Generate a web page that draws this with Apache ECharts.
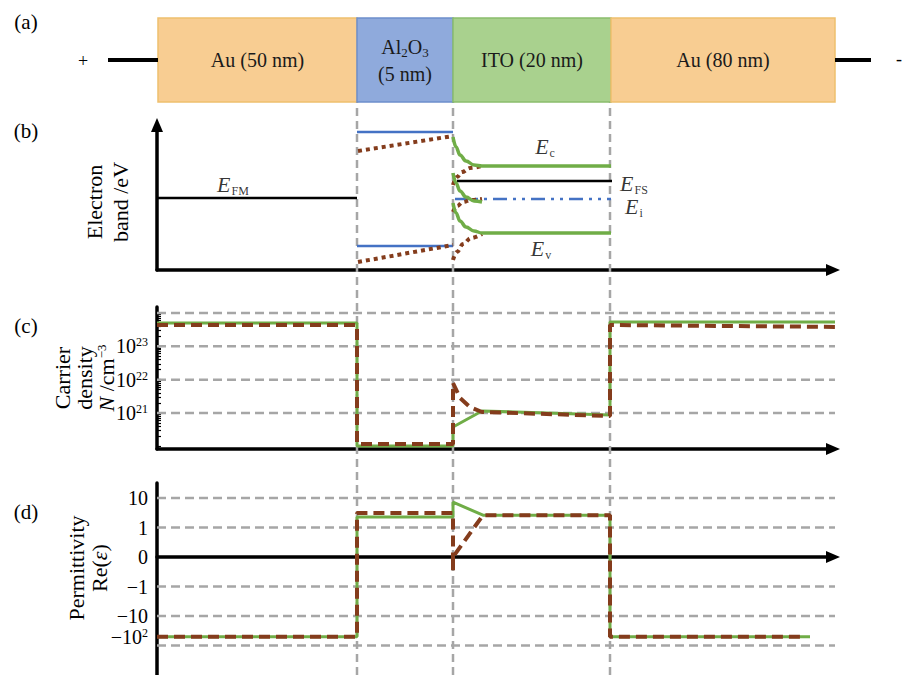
<!DOCTYPE html>
<html><head><meta charset="utf-8">
<script src="https://cdn.jsdelivr.net/npm/echarts@6/dist/echarts.min.js"></script>
<style>html,body{margin:0;padding:0;background:#fff}#c{width:902px;height:675px}</style>
</head><body><div id="c"></div>
<script>
// ---------------- data (schematic position units along the stack) ----------------
const layerLabels = ['Au (50 nm)', 'Al{s|2}O{s|3}\n(5 nm)', 'ITO (20 nm)', 'Au (80 nm)'];
const layerStart = [1, 200, 296, 454];
const layerEnd = [200, 296, 454, 678];
const interfaces = [200, 296, 453];
const wireLeft = [[-49, 0.5], [1, 0.5]];
const wireRight = [[678, 0.5], [714, 0.5]];

// (b) electron band, energy in a.u.
const bandEFM = [[0, 72], [200, 72]];
const bandAlCB = [[200, 138], [296, 138]];
const bandAlVB = [[200, 24], [296, 24]];
const bandAlCBdot = [[201, 119], [296, 134]];
const bandAlVBdot = [[201, 8], [296, 25]];
const bandEc = [[296, 133], [299, 123], [303, 115], [309, 109], [317, 105], [325, 104], [454, 104]];
const bandMid = [[296, 97], [299, 87], [303, 79], [309, 73], [317, 69], [325, 68]];
const bandEv = [[296, 67], [299, 57], [303, 49], [309, 43], [317, 39], [325, 37], [454, 37]];
const bandEcDot = [[296, 85], [300, 93], [305, 98], [313, 102], [325, 104]];
const bandMidDot = [[296, 58], [300, 64], [306, 68], [314, 70], [325, 71]];
const bandEvDot = [[296, 10], [300, 18], [306, 26], [314, 32], [325, 36]];
const bandEFS = [[300, 89], [455, 89]];
const bandEi = [[298, 71], [454, 71]];
const bandLabelPos = [[76, 86], [388, 124], [477, 87], [477, 64], [384, 22]];
const bandLabelSub = ['FM', 'c', 'FS', 'i', 'v'];

// (c) carrier density, log10(N / cm^-3)
const cTickExp = [21, 22, 23];
const cGridExp = [21, 22, 23, 24];
const densGreen = [[0, 23.70], [200, 23.70], [200, 20.01], [296, 20.01], [296, 20.58], [325, 21.06], [453, 20.94], [453, 23.73], [688, 23.73]];
const densBrown = [[0, 23.64], [200, 23.64], [200, 20.07], [296, 20.07], [296, 21.9], [303, 21.45], [313, 21.18], [325, 21.03], [453, 20.91], [453, 23.64], [688, 23.58]];

// (d) permittivity Re(eps), schematic log-like axis position
const dTickPos = [2, 1, 0, -1, -2, -2.7];
const dTickText = ['10', '1', '0', '−1', '−10', '−10{p|2}'];
const dGridPos = [2, 1, -1, -2, -3];
const permGreen = [[0, -2.7], [200, -2.7], [200, 1.36], [296, 1.36], [296, 1.86], [326, 1.42], [453, 1.42], [453, -2.7], [653, -2.7]];
const permBrown = [[0, -2.7], [200, -2.7], [200, 1.49], [296, 1.49], [296, -0.45], [296, 0], [326, 1.42], [453, 1.42], [453, -2.7], [645, -2.7]];

// ---------------- styling ----------------
const SERIF = 'Liberation Serif';
const GREEN = '#70AD47', BROWN = '#843C1C', BLUE = '#4472C4', GREY = '#A6A6A6';
const layerFill = ['#F8CD92', '#8FAADC', '#A9D18E', '#F8CD92'];
const layerStroke = ['#EEC06E', '#6E8FCB', '#8ABD6C', '#EEC06E'];

const chart = echarts.init(document.getElementById('c'), null, {renderer: 'svg'});

const axLine = (arrow) => ({show: true, onZero: true, symbol: arrow ? ['none', 'triangle'] : ['none', 'none'], symbolSize: [12, 14], lineStyle: {color: '#000', width: 3.5}});
const hidden = {show: false};
function xA(gi, min, max, showLine, arrow) {
  return {type: 'value', gridIndex: gi, min, max, axisLine: showLine ? axLine(arrow) : hidden,
    axisTick: hidden, axisLabel: hidden, splitLine: hidden};
}
function line(gi, data, color, width, type, z, extra) {
  return Object.assign({type: 'line', xAxisIndex: gi, yAxisIndex: gi, data, symbol: 'none', silent: true,
    lineStyle: {color, width, type}, z: z || 3, clip: false, animation: false}, extra || {});
}

const cMinor = [];
for (let n = 19; n <= 24; n++) for (let m = 1; m <= 9; m++) {
  const v = n + Math.log10(m);
  if (v > 19.95 && v < 24.15) cMinor.push(v);
}

const series = [];
// (a) layers
series.push({
  type: 'custom', xAxisIndex: 0, yAxisIndex: 0, silent: true,
  data: layerStart.map((s, i) => [s, layerEnd[i], i]),
  renderItem(params, api) {
    const i = api.value(2);
    const a = api.coord([api.value(0), 1]);
    const b = api.coord([api.value(1), 0]);
    return {
      type: 'rect', shape: {x: a[0], y: a[1], width: b[0] - a[0], height: b[1] - a[1]},
      style: {fill: layerFill[i], stroke: layerStroke[i], lineWidth: 1.5},
      textContent: {style: {text: layerLabels[i], fill: '#1a1a1a', fontSize: 20, fontFamily: SERIF,
        align: 'center', verticalAlign: 'middle', lineHeight: 27,
        rich: {s: {fontSize: 13, fontFamily: SERIF, padding: [12, 0, 0, 0], fill: '#1a1a1a'}}}},
      textConfig: {position: 'inside'}
    };
  }
});
series.push(line(0, wireLeft, '#000', 4, 'solid'));
series.push(line(0, wireRight, '#000', 4, 'solid'));

// interface separators
interfaces.forEach(x => series.push(line(4, [[x, 0], [x, 1]], GREY, 2.5, [8, 5], 1)));

// (b) band diagram
series.push(line(1, bandEFM, '#000', 2.5, 'solid'));
series.push(line(1, bandAlCB, BLUE, 2.5, 'solid'));
series.push(line(1, bandAlVB, BLUE, 2.5, 'solid'));
series.push(line(1, bandAlCBdot, BROWN, 4, [4, 4]));
series.push(line(1, bandAlVBdot, BROWN, 4, [4, 4]));
series.push(line(1, bandEFS, '#000', 2.5, 'solid'));
series.push(line(1, bandEi, BLUE, 2.5, [14, 6, 3, 6, 3, 6]));
[bandEcDot, bandMidDot, bandEvDot].forEach(d => series.push(line(1, d, BROWN, 4, [4, 4], 3, {smooth: 0.4, smoothMonotone: 'x'})));
[bandEc, bandMid, bandEv].forEach(d => series.push(line(1, d, GREEN, 3.5, 'solid', 4, {smooth: 0.4, smoothMonotone: 'x'})));
series.push({
  type: 'scatter', xAxisIndex: 1, yAxisIndex: 1, silent: true, symbolSize: 1, itemStyle: {color: 'rgba(0,0,0,0)'},
  data: bandLabelPos.map((p, i) => ({value: p, sub: bandLabelSub[i]})),
  label: {show: true, position: 'inside', color: '#000',
    formatter: p => '{e|E}{s|' + p.data.sub + '}',
    rich: {e: {fontSize: 22, fontStyle: 'italic', fontFamily: SERIF, color: '#000'},
           s: {fontSize: 12, fontFamily: SERIF, color: '#000', padding: [13, 0, 0, 1]}}},
  z: 5
});

// (c) carrier density
cGridExp.forEach(e => series.push(line(2, [[0, e], [688, e]], GREY, 2.5, [9, 5], 1)));
series.push(line(2, densGreen, GREEN, 3, 'solid', 3));
series.push(line(2, densBrown, BROWN, 4, [11, 6], 4));

// (d) permittivity
dGridPos.forEach(e => series.push(line(3, [[0, e], [688, e]], GREY, 2.5, [9, 5], 1)));
series.push(line(3, permGreen, GREEN, 3, 'solid', 3));
series.push(line(3, permBrown, BROWN, 4, [11, 6], 4));

const txt = (text, x, y, size, opts) => {
  opts = opts || {};
  return Object.assign({
    type: 'text', x, y, silent: true,
    style: Object.assign({text, fill: '#000', fontSize: size, fontFamily: SERIF,
      textAlign: 'center', textVerticalAlign: 'middle', align: 'center', verticalAlign: 'middle'}, opts.style || {})
  }, opts.el || {});
};

const supRich = {p: {fontSize: 12, fontFamily: SERIF, color: '#000', padding: [0, 0, 8, 0]}};

const option = {
  animation: false,
  backgroundColor: '#fff',
  grid: [
    {left: 0, width: 902, top: 18, height: 84},
    {left: 157, width: 676, top: 125, height: 145},
    {left: 157, width: 676, top: 307, height: 142},
    {left: 157, width: 676, top: 483, height: 192},
    {left: 157, width: 683, top: 102, height: 573}
  ],
  xAxis: [
    xA(0, -157, 745, false),
    xA(1, 0, 676, true, true),
    xA(2, 0, 676, true, true),
    xA(3, 0, 676, true, true),
    xA(4, 0, 683, false)
  ],
  yAxis: [
    {type: 'value', gridIndex: 0, min: 0, max: 1, show: false},
    {type: 'value', gridIndex: 1, min: 0, max: 145, axisLine: axLine(true), axisTick: hidden, axisLabel: hidden, splitLine: hidden},
    {type: 'value', gridIndex: 2, min: 19.92, max: 24.18, axisLine: axLine(false), splitLine: hidden,
      axisTick: {show: true, inside: true, length: 4, customValues: cMinor, lineStyle: {color: '#000', width: 1.2}},
      axisLabel: {show: true, customValues: cTickExp, margin: 9, color: '#000', fontSize: 20, fontFamily: SERIF,
        hideOverlap: false, showMinLabel: true, showMaxLabel: true,
        formatter: v => '10{p|' + Math.round(v) + '}', rich: supRich}},
    {type: 'value', gridIndex: 3, min: -4, max: 2.51, axisLine: axLine(false), splitLine: hidden, axisTick: hidden,
      axisLabel: {show: true, customValues: dTickPos, margin: 9, color: '#000', fontSize: 20, fontFamily: SERIF,
        hideOverlap: false, showMinLabel: true, showMaxLabel: true,
        formatter: v => dTickText[dTickPos.indexOf(v)], rich: supRich}},
    {type: 'value', gridIndex: 4, min: 0, max: 1, show: false}
  ],
  series,
  graphic: [
    txt('(a)', 26, 22, 21),
    txt('(b)', 26, 131, 21),
    txt('(c)', 26, 326, 21),
    txt('(d)', 26, 512, 21),
    txt('+', 83, 61, 18),
    txt('-', 899, 59, 18),
    txt('Electron\nband /eV', 107, 202, 22, {el: {rotation: Math.PI / 2}, style: {lineHeight: 26}}),
    txt('Carrier\ndensity\n{i|N} /cm{p|−3}', 84, 378, 22, {el: {rotation: Math.PI / 2}, style: {lineHeight: 22,
      rich: {i: {fontSize: 22, fontStyle: 'italic', fontFamily: SERIF, fill: '#000'},
             p: {fontSize: 13, fontFamily: SERIF, fill: '#000', padding: [0, 0, 10, 0]}}}}),
    txt('Permittivity\nRe({i|ε})', 88, 568, 22, {el: {rotation: Math.PI / 2}, style: {lineHeight: 23,
      rich: {i: {fontSize: 22, fontStyle: 'italic', fontFamily: SERIF, fill: '#000'}}}})
  ]
};
chart.setOption(option);
</script>
</body></html>
